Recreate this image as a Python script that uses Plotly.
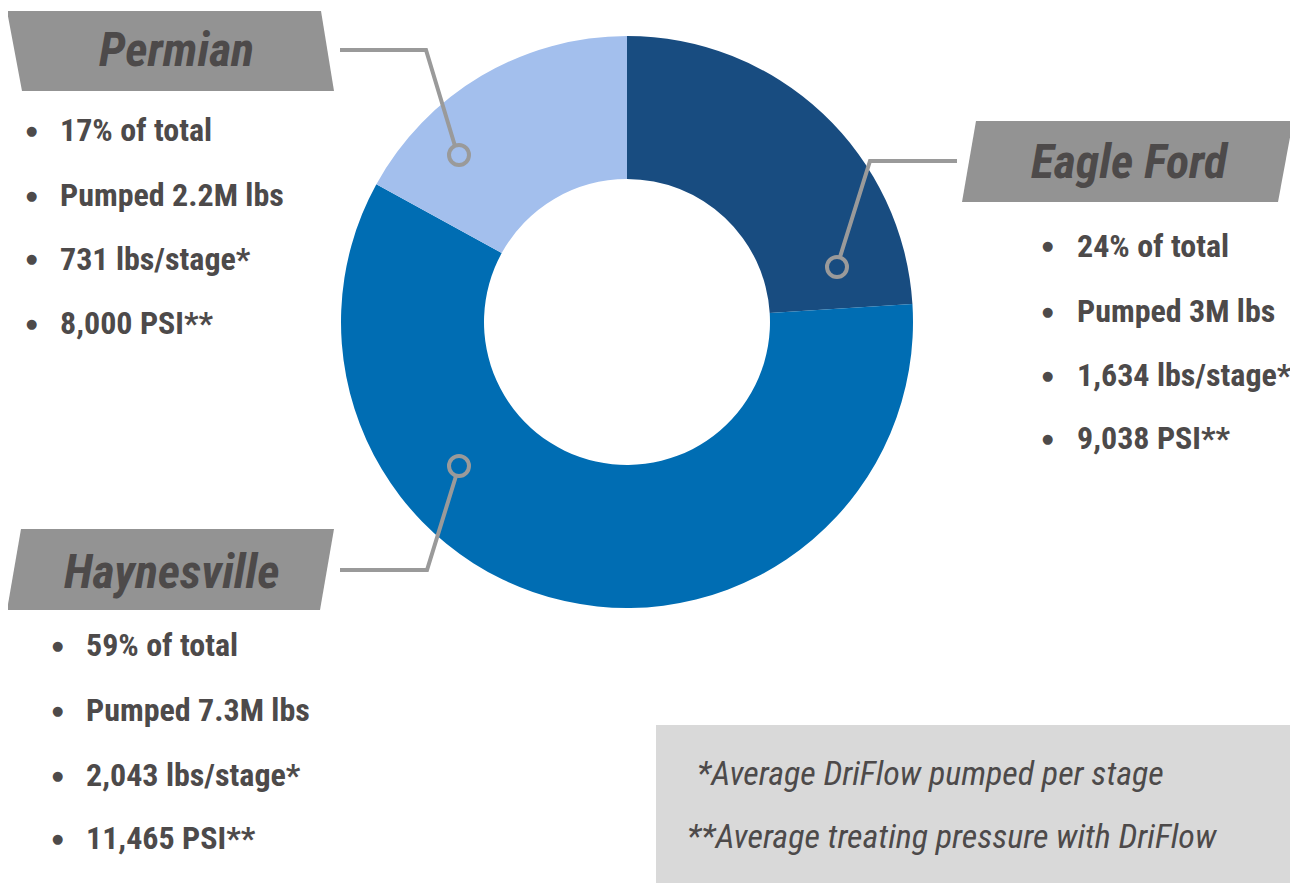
import plotly.graph_objects as go

W, H = 1298, 883
OFF = 8  # page body margin in the browser

regions = ["Eagle Ford", "Haynesville", "Permian"]
shares = [24, 59, 17]
slice_colors = ["#184c80", "#006db3", "#a3bfed"]

permian_stats = ["17% of total", "Pumped 2.2M lbs", "731 lbs/stage*", "8,000 PSI**"]
eagle_stats = ["24% of total", "Pumped 3M lbs", "1,634 lbs/stage*", "9,038 PSI**"]
haynes_stats = ["59% of total", "Pumped 7.3M lbs", "2,043 lbs/stage*", "11,465 PSI**"]
footnotes = ["*Average DriFlow pumped per stage", "**Average treating pressure with DriFlow"]

FONT = "Roboto Condensed, Open Sans Condensed, sans-serif"
TXT = "#4d4a4a"
BOX = "#939393"
LINE = "#9a9a9a"


def px(x):
    return (x - OFF) / W


def py(y):
    return 1 - (y - OFF) / H


fig = go.Figure(go.Pie(
    labels=regions, values=shares, hole=0.5, sort=False, direction="clockwise",
    rotation=0, textinfo="none", hoverinfo="label+percent",
    marker=dict(colors=slice_colors, line=dict(width=0)),
    domain=dict(x=[px(341), px(913)], y=[py(608), py(36)]),
    showlegend=False,
))

shapes = []
annotations = []


def poly(pts, color):
    d = "M " + " L ".join(f"{px(x)},{py(y)}" for x, y in pts) + " Z"
    shapes.append(dict(type="path", path=d, xref="paper", yref="paper",
                       fillcolor=color, line=dict(width=0), layer="below"))


def polyline(pts):
    d = "M " + " L ".join(f"{px(x)},{py(y)}" for x, y in pts)
    shapes.append(dict(type="path", path=d, xref="paper", yref="paper",
                       line=dict(color=LINE, width=4), layer="above"))


def ring(cx, cy, r=10):
    shapes.append(dict(type="circle", xref="paper", yref="paper",
                       x0=px(cx - r), x1=px(cx + r), y0=py(cy + r), y1=py(cy - r),
                       line=dict(color=LINE, width=4), fillcolor="rgba(0,0,0,0)", layer="above"))


def title(text, x, y):
    annotations.append(dict(text=f"<b><i>{text}</i></b>", x=px(x), y=py(y), xref="paper", yref="paper",
                            showarrow=False, xanchor="center", yanchor="middle",
                            font=dict(family=FONT, size=48, color=TXT)))


def bullets(items, bx, tx, ys):
    for item, y in zip(items, ys):
        annotations.append(dict(text="●", x=px(bx), y=py(y), xref="paper", yref="paper",
                                showarrow=False, xanchor="center", yanchor="middle",
                                font=dict(family="DejaVu Sans", size=13, color=TXT)))
        annotations.append(dict(text=f"<b>{item}</b>", x=px(tx), y=py(y), xref="paper", yref="paper",
                                showarrow=False, xanchor="left", yanchor="middle", borderpad=0,
                                font=dict(family=FONT, size=32, color=TXT)))


# Permian
poly([(7, 11), (321, 11), (334, 91), (22, 91)], BOX)
title("Permian", 176, 50)
bullets(permian_stats, 31, 59, [130, 195, 259, 323])
polyline([(340, 50), (426, 50), (455, 146)])
ring(459, 155)

# Eagle Ford
poly([(976, 121), (1293, 121), (1278, 202), (962, 202)], BOX)
title("Eagle Ford", 1130, 161)
bullets(eagle_stats, 1047, 1076, [246, 311, 375, 438])
polyline([(957, 161), (870, 161), (840, 257)])
ring(837, 267)

# Haynesville
poly([(21, 529), (334, 529), (320, 610), (7, 610)], BOX)
title("Haynesville", 172, 571)
bullets(haynes_stats, 57, 85, [645, 710, 775, 838])
polyline([(340, 570), (427, 570), (456, 476)])
ring(459, 466)

# Footnote box
poly([(656, 725), (1291, 725), (1291, 895), (656, 895)], "#d9d9d9")
for text, x, y in zip(footnotes, [696, 686], [773, 836]):
    annotations.append(dict(text=f"<i>{text}</i>", x=px(x), y=py(y), xref="paper", yref="paper",
                            showarrow=False, xanchor="left", yanchor="middle", borderpad=0,
                            font=dict(family=FONT, size=34, color=TXT)))

fig.update_layout(
    width=W, height=H, margin=dict(l=0, r=0, t=0, b=0),
    paper_bgcolor="white", plot_bgcolor="white",
    shapes=shapes, annotations=annotations,
)

fig.write_html("out.html")
